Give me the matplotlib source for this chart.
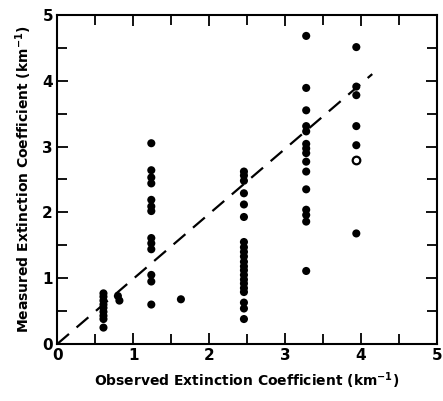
import matplotlib
matplotlib.use("Agg")
import matplotlib.pyplot as plt
from matplotlib.ticker import MultipleLocator

# ── Data ──────────────────────────────────────────────────────────────────────
X_COLS = [0.61, 0.80, 0.82, 1.24, 1.63, 2.46, 3.28, 3.94]
Y_COLS = [
    [0.77, 0.72, 0.66, 0.60, 0.55, 0.49, 0.43, 0.38, 0.25],
    [0.73],
    [0.66],
    [3.05, 2.64, 2.53, 2.44, 2.19, 2.09, 2.02, 1.61, 1.53, 1.44, 1.05, 0.95, 0.60],
    [0.68],
    [2.62, 2.56, 2.48, 2.29, 2.12, 1.93,
     1.55, 1.47, 1.40, 1.33, 1.25, 1.18, 1.12, 1.05, 0.98, 0.92, 0.85, 0.79,
     0.63, 0.54, 0.38],
    [4.68, 3.89, 3.55, 3.31, 3.23, 3.04, 2.97, 2.90, 2.77, 2.62, 2.35,
     2.04, 1.96, 1.86, 1.11],
    [4.51, 3.91, 3.78, 3.31, 3.02, 1.68],
]
OPEN_X = [3.94]
OPEN_Y = [2.80]

LINE_X = [0.0, 4.15]
LINE_Y = [0.0, 4.10]

def main():
    fig = plt.figure(figsize=(4.43, 4.01), dpi=100)
    ax = fig.add_axes([0.129, 0.142, 0.857, 0.821])

    xs = [x for x, ys in zip(X_COLS, Y_COLS) for _ in ys]
    ys = [y for col in Y_COLS for y in col]
    ax.scatter(xs, ys, s=34, color="black", edgecolor="none", zorder=3,
               clip_on=False)
    ax.scatter(OPEN_X, OPEN_Y, s=30, facecolor="white", edgecolor="black",
               linewidth=1.6, zorder=3)

    ax.plot(LINE_X, LINE_Y, color="black", linewidth=1.6,
            dashes=(7, 4.5), zorder=2)

    ax.set_xlim(0, 5)
    ax.set_ylim(0, 5)
    ax.xaxis.set_major_locator(MultipleLocator(1))
    ax.xaxis.set_minor_locator(MultipleLocator(0.5))
    ax.yaxis.set_major_locator(MultipleLocator(1))
    ax.yaxis.set_minor_locator(MultipleLocator(0.5))
    ax.tick_params(which="both", direction="in", top=True, right=True,
                   width=1.3, labelsize=11)
    ax.tick_params(which="major", length=8, pad=3)
    ax.tick_params(which="minor", length=7)
    for sp in ax.spines.values():
        sp.set_linewidth(1.5)
    for lab in ax.get_xticklabels() + ax.get_yticklabels():
        lab.set_fontweight("bold")

    ax.set_xlabel(r"Observed Extinction Coefficient (km$^{\mathbf{-1}}$)",
                  fontsize=10, fontweight="bold", labelpad=5)
    ax.set_ylabel(r"Measured Extinction Coefficient (km$^{\mathbf{-1}}$)",
                  fontsize=10, fontweight="bold", labelpad=6)

    fig.savefig("out.png", dpi=100)

if __name__ == "__main__":
    main()
